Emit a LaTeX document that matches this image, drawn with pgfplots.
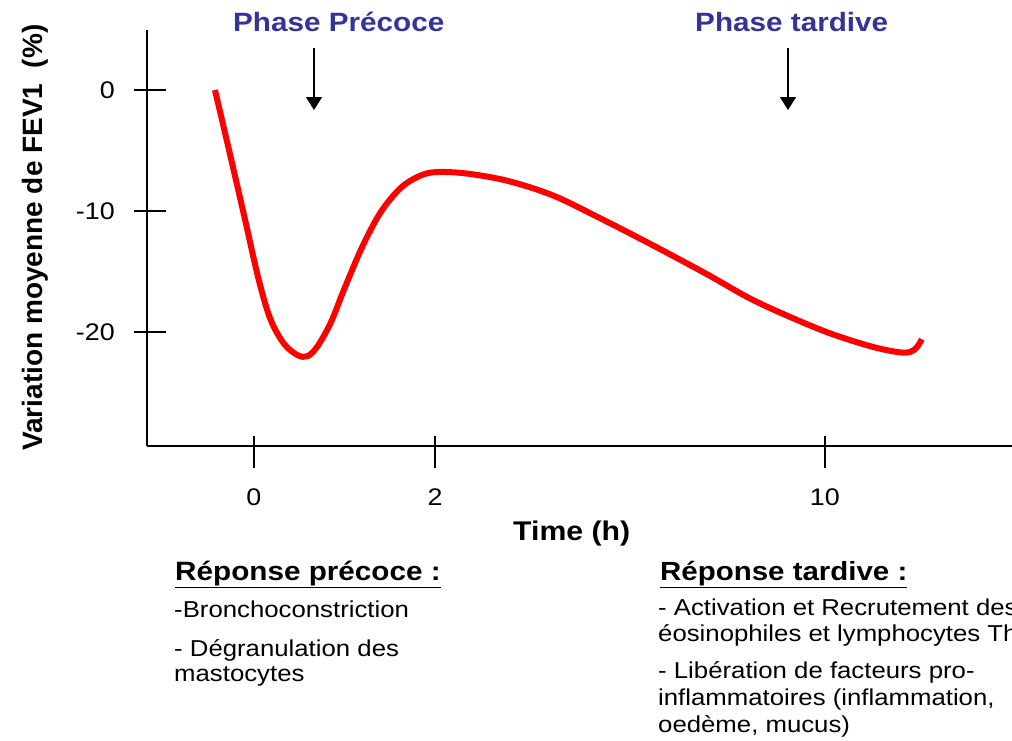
\documentclass[border=0pt]{standalone}
\usepackage{fontspec}
\setmainfont{Liberation Sans}[FakeStretch=1.12]
\newfontfamily\ylfont{Liberation Sans}
\usepackage{pgfplots}
\pgfplotsset{compat=1.18}
\usetikzlibrary{arrows.meta}
\definecolor{titleblue}{RGB}{51,51,153}
\begin{document}
\begin{tikzpicture}
\useasboundingbox (0pt,0pt) rectangle (1012pt,-740pt);
\begin{axis}[
  at={(147pt,-446pt)}, anchor=south west,
  width=865pt, height=416pt, scale only axis,
  xmin=-1.182, xmax=8.376, ymin=-29.42, ymax=4.96,
  axis x line=bottom, axis y line=left,
  axis line style={-, line width=1.8pt, black},
  xtick={0,2,6.309}, xticklabels={0,2,10},
  ytick={-20,-10,0}, yticklabels={-20,-10,0},
  tick align=center, major tick length=32pt,
  tick style={line width=1.8pt, black},
  xtick style={yshift=-6pt},
  ytick style={xshift=3pt},
  tick label style={font=\fontsize{24}{24}\selectfont, inner sep=0pt},
  xticklabel style={anchor=north, yshift=-27pt},
  yticklabel style={anchor=east, xshift=-16pt},
  clip=false,
]
\addplot[red, line width=6pt, smooth, tension=0.55] coordinates {
(-0.431,0) (-0.265,-5.3) (-0.099,-10.7) (0.05,-15.6) (0.18,-18.9)
(0.33,-20.95) (0.48,-21.9) (0.59,-22.0) (0.70,-21.2) (0.85,-19.2)
(1.0,-16.4) (1.2,-12.9) (1.4,-10.1) (1.62,-8.1) (1.83,-7.1) (2.02,-6.78)
(2.35,-6.9) (2.8,-7.5) (3.3,-8.7) (3.8,-10.5) (4.4,-12.8) (5.0,-15.2)
(5.5,-17.3) (6.0,-19.0) (6.4,-20.2) (6.85,-21.25) (7.17,-21.7) (7.3,-21.45) (7.38,-20.6)
};
\end{axis}
% titles and arrows
\node[anchor=base west, inner sep=0pt, text=titleblue, font=\fontsize{26.5}{26.5}\selectfont\bfseries] at (233pt,-31pt) {Phase Précoce};
\node[anchor=base west, inner sep=0pt, text=titleblue, font=\fontsize{26.5}{26.5}\selectfont\bfseries] at (695pt,-31pt) {Phase tardive};
\draw[line width=1.5pt, -{Triangle[width=16pt,length=13pt]}] (314pt,-48pt) -- (314pt,-110pt);
\draw[line width=1.5pt, -{Triangle[width=16pt,length=13pt]}] (788pt,-48pt) -- (788pt,-110pt);
% axis labels
\node[anchor=base west, inner sep=0pt, font=\fontsize{27}{27}\selectfont\bfseries] at (513pt,-540pt) {Time (h)};
\node[anchor=base west, inner sep=0pt, rotate=90, font=\ylfont\fontsize{28}{28}\selectfont\bfseries] at (42pt,-451pt) {Variation moyenne de FEV1~ (\%)};
% left text block
\node[anchor=base west, inner sep=0pt, font=\fontsize{26.5}{26.5}\selectfont\bfseries] at (175pt,-580pt) {\underline{Réponse précoce :}};
\node[anchor=base west, inner sep=0pt, font=\fontsize{23}{23}\selectfont] at (174pt,-617pt) {-Bronchoconstriction};
\node[anchor=base west, inner sep=0pt, font=\fontsize{23}{23}\selectfont] at (174pt,-656pt) {- Dégranulation des};
\node[anchor=base west, inner sep=0pt, font=\fontsize{23}{23}\selectfont] at (174pt,-681pt) {mastocytes};
% right text block
\node[anchor=base west, inner sep=0pt, font=\fontsize{26.3}{26.3}\selectfont\bfseries] at (660pt,-580pt) {\underline{Réponse tardive :}};
\node[anchor=base west, inner sep=0pt, font=\fontsize{23}{23}\selectfont] at (658pt,-615pt) {- Activation et Recrutement des};
\node[anchor=base west, inner sep=0pt, font=\fontsize{23}{23}\selectfont] at (658pt,-641pt) {éosinophiles et lymphocytes Th};
\node[anchor=base west, inner sep=0pt, font=\fontsize{23}{23}\selectfont] at (658pt,-678pt) {- Libération de facteurs pro-};
\node[anchor=base west, inner sep=0pt, font=\fontsize{23}{23}\selectfont] at (658pt,-705pt) {inflammatoires (inflammation,};
\node[anchor=base west, inner sep=0pt, font=\fontsize{23}{23}\selectfont] at (658pt,-732pt) {oedème, mucus)};
\end{tikzpicture}
\end{document}
